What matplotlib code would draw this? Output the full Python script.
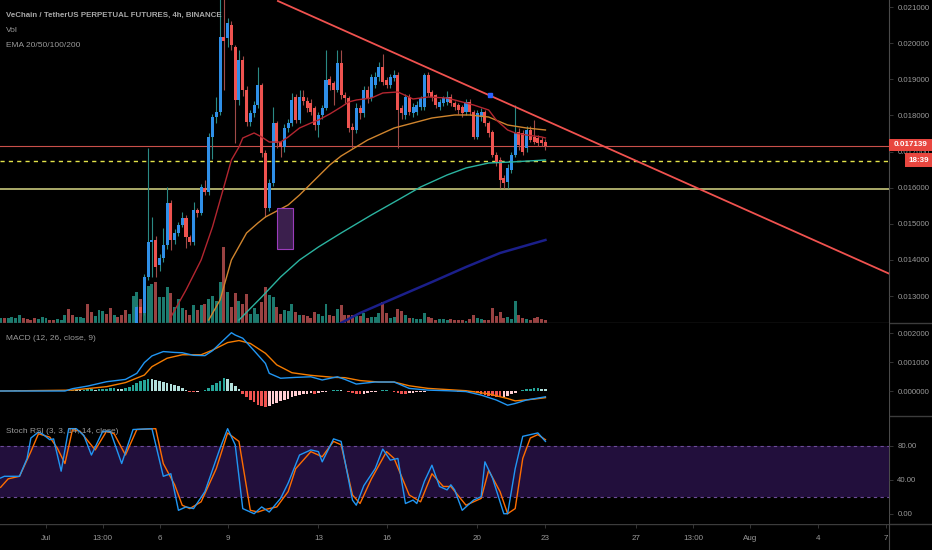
import numpy as np
import matplotlib.pyplot as plt
from matplotlib import font_manager
from matplotlib.lines import Line2D
from matplotlib.patches import Rectangle

# 4h candles, index 0 = Jun 29 01:00, last = Jul 23 01:00
# prices in millionths of USDT
opens = [11880, 11900, 11850, 11880, 11950, 12000, 12050, 12020, 11980, 11920,
         11900, 11960, 12050, 12080, 12040, 12000, 12030, 12100, 12120, 12080,
         12040, 12100, 12150, 12170, 12130, 12090, 12110, 12180, 12200, 12180,
         12150, 12190, 12140, 12100, 12080, 12150, 12180, 12700, 12530, 13530,
         14500, 14560, 13860, 14050, 14410, 15575, 14550, 14745, 14966, 15160,
         14630, 14500, 15380, 15300, 15990, 15880, 17400, 17955, 18094, 20170,
         20142, 20502, 19893, 18426, 19533, 18702, 17817, 18066, 18288, 18841,
         16959, 15437, 16129, 17789, 17264, 17125, 17651, 17800, 18509, 17872,
         18509, 18400, 18350, 18205, 17734, 18011, 18205, 19007, 18897, 18702,
         19450, 18565, 18481, 17679, 17596, 18205, 18066, 18702, 18481, 18841,
         19063, 19339, 18980, 18841, 19035, 19118, 18205, 18011, 18509, 18066,
         18094, 18232, 18232, 19118, 18648, 18565, 18232, 18343, 18371, 18509,
         18343, 18288, 18232, 18094, 18371, 18094, 17402, 17955, 18094, 17789,
         17540, 16904, 16766, 16267, 16156, 16488, 16904, 17540, 17513, 17097,
         17596, 17402, 17374, 17319, 17264]
highs = [11940, 11930, 11910, 11990, 12040, 12090, 12080, 12050, 12010, 11950,
         11990, 12090, 12120, 12110, 12070, 12060, 12140, 12170, 12150, 12110,
         12130, 12190, 12210, 12200, 12160, 12150, 12220, 12230, 12220, 12200,
         12220, 12210, 12170, 12130, 12180, 12230, 12750, 12800, 13600, 17100,
         15190, 14650, 14150, 14880, 16020, 15650, 14850, 15050, 15330, 15250,
         14700, 15600, 15450, 16100, 16200, 17500, 18050, 18500, 21300, 21300,
         20700, 20600, 19950, 19800, 19650, 18800, 18150, 18400, 19339, 18900,
         17050, 16250, 18232, 17850, 17300, 17750, 17900, 18620, 18600, 18700,
         18700, 18500, 18450, 18250, 18100, 18300, 19810, 19100, 18950, 19810,
         19810, 18650, 18550, 17800, 18350, 18300, 18800, 18800, 19150, 19200,
         19478, 19700, 19050, 19150, 19250, 19200, 18300, 18600, 18600, 18350,
         18400, 18550, 19173, 19200, 18700, 18600, 18450, 18550, 18675, 18600,
         18400, 18350, 18300, 18450, 18450, 18150, 18150, 18200, 18150, 17850,
         17600, 16990, 16850, 16350, 16650, 17000, 18288, 17650, 17600, 17700,
         17700, 17872, 17450, 17400, 17350]
lows = [11840, 11810, 11820, 11860, 11920, 11970, 11990, 11950, 11890, 11860,
        11880, 11940, 12020, 12010, 11970, 11980, 12010, 12080, 12050, 12010,
        12020, 12080, 12130, 12100, 12060, 12070, 12090, 12160, 12150, 12120,
        12130, 12110, 12070, 12040, 12060, 12120, 12150, 12450, 12480, 13450,
        13530, 13530, 13700, 13950, 14300, 14270, 14450, 14650, 14900, 14330,
        14400, 14420, 15200, 15250, 15800, 15800, 16800, 17800, 18000, 18700,
        19900, 19800, 17236, 18300, 18550, 17700, 17700, 17950, 18200, 16850,
        15187, 15350, 16050, 17100, 16850, 17000, 17550, 17700, 17800, 17800,
        18300, 18100, 18000, 17600, 17400, 17900, 18150, 18700, 18288, 18650,
        18450, 18350, 17550, 17097, 17500, 17900, 17950, 18350, 18400, 18750,
        18950, 18850, 18750, 18750, 18950, 17097, 17900, 17900, 18000, 17950,
        18000, 18150, 18150, 18550, 18400, 18200, 18150, 18250, 18300, 18250,
        18150, 18050, 17950, 18000, 18000, 17350, 17350, 17850, 17700, 17400,
        16850, 16600, 15990, 15990, 15990, 16400, 16850, 17050, 16900, 17000,
        17250, 17200, 17150, 17150, 17050]
closes = [11900, 11850, 11880, 11950, 12000, 12050, 12020, 11980, 11920, 11900,
          11960, 12050, 12080, 12040, 12000, 12030, 12100, 12120, 12080, 12040,
          12100, 12150, 12170, 12130, 12090, 12110, 12180, 12200, 12180, 12150,
          12190, 12140, 12100, 12080, 12150, 12180, 12700, 12530, 13530, 14500,
          14560, 13800, 14050, 14410, 15575, 14550, 14745, 14966, 15160, 14630,
          14500, 15380, 15300, 16018, 15880, 17400, 17955, 18094, 20170, 20050,
          20557, 19948, 18426, 19533, 18702, 17817, 18066, 18288, 18841, 16959,
          15437, 16129, 17789, 17236, 17125, 17651, 17800, 18426, 17872, 18509,
          18400, 18205, 18094, 17734, 18011, 18205, 18980, 18841, 18702, 19450,
          18565, 18481, 17651, 17596, 18205, 18066, 18702, 18481, 19063, 19063,
          19339, 18924, 18841, 19063, 19118, 18149, 18066, 18509, 18094, 18232,
          18288, 18481, 19118, 18620, 18509, 18288, 18371, 18481, 18509, 18343,
          18232, 18149, 18066, 18371, 18094, 17402, 18066, 18094, 17789, 17513,
          16904, 16710, 16212, 16129, 16544, 16904, 17513, 17180, 16987, 17596,
          17319, 17264, 17236, 17236, 17139]
volumes = [5, 4.5, 4.5, 6, 5, 8, 5, 4, 3, 5, 4, 6, 5, 3, 3, 4, 3, 8, 14, 8,
           6, 6, 5, 19, 11, 7, 13, 12, 9, 15, 8, 6, 8, 13, 9,
           27, 31, 24, 26, 37, 38, 40, 26, 26, 36, 30, 16, 24, 15, 13, 8, 18, 13,
           18, 19, 24, 27, 22, 40, 75, 31, 16, 30, 22, 19, 29, 9, 15, 9, 21, 36,
           28, 26, 16, 9, 13, 12, 19, 11, 8, 8, 7, 5, 11, 9, 7, 19, 8, 7, 14, 18,
           8, 8, 8, 7, 7, 10, 5, 6, 6, 10, 21, 10, 5, 6, 14, 12, 8, 5, 5, 4, 4,
           10, 6, 5, 3, 4, 4, 3, 4, 3, 3, 3, 2, 4, 8, 5, 4, 3, 3, 15, 7, 11, 5,
           6, 4, 22, 8, 5, 4, 3, 5, 6, 4, 3]

# EMA lines read at candle indices (prices in millionths)
ema20_i = [45, 49, 53, 56, 59, 61, 63, 64, 67, 69, 71, 74, 76, 79, 82, 84, 87, 90,
           92, 94, 98, 101, 105, 109, 113, 118, 122, 125, 129, 131, 134, 136, 139, 143, 144]
ema20_p = [12419, 13167, 13997, 14911, 16018, 16765, 17125, 17374, 17513, 17402,
           17263, 17263, 17402, 17651, 17789, 17872, 18039, 18232, 18371, 18426,
           18481, 18620, 18648, 18454, 18509, 18481, 18371, 18288, 18149, 17872,
           17596, 17513, 17457, 17402, 17374]
ema50_i = [55, 58, 61, 65, 68, 70, 72, 76, 79, 83, 87, 90, 97, 104, 109, 114, 120,
           124, 129, 134, 139, 144]
ema50_p = [12336, 12890, 13997, 14745, 15021, 15188, 15298, 15520, 15796, 16212,
           16627, 16876, 17319, 17651, 17789, 17928, 18011, 18011, 17955, 17734,
           17651, 17596]
ema100_i = [63, 69, 74, 79, 84, 90, 98, 105, 111, 118, 123, 129, 135, 144]
ema100_p = [12336, 12973, 13527, 13997, 14357, 14745, 15243, 15658, 16018, 16350,
            16544, 16682, 16710, 16765]
ema200_i = [89, 95, 106, 114, 123, 132, 144]
ema200_p = [12200, 12530, 13028, 13388, 13803, 14191, 14551]

last_price = 0.017139
dashed_level = 0.016737
support_level = 0.015950
trend_i = [73.3, 234.8]
trend_p = [0.021166, 0.013620]
marker_i, marker_p = 129.4, 0.018558
box_i = (73.0, 77.2)
box_p = (0.01430, 0.01544)

# MACD (12, 26, close, 9), values in thousandths
macd_i = [0, 17, 19, 23, 28, 33, 36, 38, 40, 43, 46, 48, 51, 54, 56, 58, 61, 62, 64, 67,
          70, 71, 74, 78, 82, 85, 89, 91, 94, 99, 104, 108, 113, 118, 123, 127, 131,
          134, 136, 139, 144]
macd_v = [0.0, 0.0, 0.08, 0.17, 0.32, 0.40, 0.61, 0.98, 1.21, 1.36, 1.33, 1.32, 1.23,
          1.22, 1.39, 1.64, 2.01, 1.93, 1.82, 1.39, 0.95, 0.61, 0.44, 0.47, 0.49, 0.38,
          0.49, 0.40, 0.24, 0.31, 0.31, 0.09, 0.03, 0.01, -0.02, -0.14, -0.31, -0.49,
          -0.43, -0.31, -0.20]
signal_i = [0, 19, 28, 33, 38, 40, 44, 48, 53, 56, 60, 63, 66, 70, 73, 77, 82, 88, 91,
            95, 100, 104, 108, 113, 123, 129, 134, 136, 141, 144]
signal_v = [0.0, 0.03, 0.15, 0.29, 0.55, 0.84, 1.13, 1.25, 1.25, 1.41, 1.67, 1.74, 1.64,
            1.30, 0.90, 0.63, 0.54, 0.47, 0.46, 0.36, 0.31, 0.31, 0.18, 0.09, 0.01,
            -0.10, -0.26, -0.34, -0.28, -0.23]
# histogram per candle, in ten-thousandths
hist = [0.1, 0.1, 0.0, 0.1, 0.2, 0.2, 0.1, 0.0, -0.1, -0.1, 0.0, 0.2, 0.2, 0.1, 0.0, 0.1,
        0.2, 0.3,
        0.4, 0.5, 0.4, 0.3, 0.5, 0.6, 0.6, 0.5, 0.7, 0.7, 0.8, 0.9, 0.9, 0.7, 0.6, 0.9,
        1.5, 2.1, 2.7, 3.3, 3.8, 4.1, 4.0, 3.7,
        3.4, 3.1, 2.8, 2.4, 2.0, 1.6, 1.1, 0.5,
        -0.2, -0.4, -0.3, -0.1,
        0.4, 1.1, 1.9, 2.8, 3.6, 4.4, 4.0, 2.9, 1.7, 0.6,
        -1.0, -2.0, -3.0, -3.9, -4.7, -5.3, -5.6,
        -5.1, -4.5, -4.0, -3.5, -3.0, -2.6, -2.2, -1.8, -1.4, -1.1, -0.9, -0.7, -0.9,
        -0.8, -0.5, -0.3,
        0.1, 0.2, 0.3, 0.2, 0.1,
        -0.4, -0.7, -1.0, -1.1, -0.9, -0.7, -0.5, -0.2,
        0.1, 0.2, 0.2, 0.1,
        -0.2, -0.6, -0.9, -1.0, -0.8, -0.6, -0.5, -0.4, -0.2,
        -0.1, -0.1, 0.0, 0.1, 0.1, 0.0, -0.1, -0.1, -0.2, -0.2, -0.1, -0.2,
        -0.5, -0.8, -1.1, -1.4, -1.6, -1.8, -2.0, -2.2, -2.2, -1.7,
        -1.1, -0.6, -0.1,
        0.3, 0.6, 0.8, 0.9, 0.9, 0.8, 0.7]

# Stoch RSI (3, 3, 14, 14, close)
k_i = [0, 1, 3, 5, 7, 8, 10, 11, 13, 14, 16, 18, 20, 22, 24, 27, 29, 32, 35, 40, 43, 45,
       47, 49, 51, 54, 58, 60, 62, 64, 67, 69, 71, 74, 76, 79, 82, 84, 85, 88, 90, 93,
       94, 96, 99, 101, 103, 105, 107, 109, 110, 112, 114, 116, 118, 119, 120, 122,
       125, 127, 128, 130, 133, 134, 136, 138, 140, 142, 144]
k_v = [42, 44, 44, 44, 65, 89, 96, 94, 87, 88, 50, 100, 100, 92, 69, 97, 97, 59, 99, 100,
       44, 47, 4, 8, 6, 26, 77, 100, 81, 6, 0, 8, 2, 18, 36, 69, 75, 73, 61, 88, 85, 16,
       10, 33, 53, 76, 63, 65, 12, 16, 12, 38, 57, 32, 28, 34, 28, 4, 16, 20, 61, 42, 0,
       0, 53, 91, 93, 95, 85]
d_i = [0, 2, 5, 8, 10, 13, 15, 17, 19, 21, 25, 28, 30, 33, 36, 41, 43, 46, 48, 50, 53,
       57, 60, 63, 66, 68, 70, 73, 76, 78, 82, 85, 88, 90, 93, 95, 98, 102, 104, 108,
       111, 114, 117, 119, 123, 127, 129, 132, 134, 136, 138, 140, 142, 144]
d_v = [31, 41, 44, 73, 94, 90, 77, 59, 99, 97, 75, 97, 94, 69, 99, 100, 59, 34, 10, 6,
       14, 53, 95, 85, 4, 2, 5, 8, 26, 53, 73, 67, 85, 81, 22, 12, 41, 73, 65, 22, 14,
       47, 32, 32, 10, 18, 51, 26, 0, 6, 65, 89, 93, 87]

tick_idx = [12, 27, 42, 60, 84, 102, 126, 144, 168, 183, 198, 216, 234]
tick_lab = ["Jul", "13:00", "6", "9", "13", "16", "20", "23", "27", "13:00", "Aug", "4", "7"]

# ---------------------------------------------------------------------------
names = {f.name for f in font_manager.fontManager.ttflist}
narrow = "Liberation Sans Narrow" in names
ui_font = "Liberation Sans Narrow" if narrow else "Liberation Sans"
plt.rcParams["font.family"] = ["Liberation Sans", "DejaVu Sans"]

W, H = 932, 550
AX_R = 889
TXT = "#9a9a9a"
SEP = "#3c3c3c"
UP, DOWN = "#2f8fe8", "#ef5350"

fig = plt.figure(figsize=(W / 100, H / 100), dpi=100, facecolor="black")


def pane(top, bottom, z=2):
    a = fig.add_axes([0, 1 - bottom / H, AX_R / W, (bottom - top) / H], zorder=z)
    a.set_xlim(-0.16, 234.8)
    for s in a.spines.values():
        s.set_visible(False)
    a.set_xticks([])
    a.yaxis.tick_right()
    a.tick_params(axis="y", colors=SEP, labelcolor=TXT, labelsize=5.6,
                  length=3, width=0.6, pad=3)
    return a


o = np.array(opens) / 1e6
h = np.array(highs) / 1e6
l = np.array(lows) / 1e6
c = np.array(closes) / 1e6
vol = np.array(volumes, dtype=float)
idx = np.arange(len(c))
up = c >= o

# volume underneath
vax = pane(0, 323, z=1)
vax.set_facecolor("black")
vax.set_yticks([])
vax.set_ylim(0, vol.max() * 4.25)
vax.bar(idx, vol, width=0.78, color=np.where(up, "#1c7a6e", "#994242"), linewidth=0)

# price pane
ax = pane(0, 323, z=2)
ax.set_facecolor("none")
ax.set_ylim(0.012253, 0.021194)
ax.set_yticks(np.arange(13, 22) / 1000)
ax.set_yticklabels([f"{v:.6f}" for v in np.arange(13, 22) / 1000])

ax.axhline(last_price, color="#c9504a", lw=0.8, zorder=1)
ax.axhline(dashed_level, color="#e3e34a", lw=1.0, ls=(0, (3, 3)), zorder=1)
ax.axhline(support_level, color="#c8c87c", lw=1.2, zorder=1)

ax.vlines(idx, l, h, colors=np.where(up, "#2a8a84", "#a04a48"), lw=0.8, zorder=2)
ax.bar(idx, np.maximum(np.abs(c - o), 0.00002), bottom=np.minimum(o, c), width=0.8,
       color=np.where(up, UP, DOWN), linewidth=0, zorder=3)

ax.plot(ema200_i, np.array(ema200_p) / 1e6, color="#1b1f8a", lw=1.8, zorder=4)
ax.plot(ema100_i, np.array(ema100_p) / 1e6, color="#2bb3a0", lw=1.0, zorder=4)
ax.plot(ema50_i, np.array(ema50_p) / 1e6, color="#d0852e", lw=1.0, zorder=4)
ax.plot(ema20_i, np.array(ema20_p) / 1e6, color="#b32630", lw=1.0, zorder=4)

ax.plot(trend_i, trend_p, color="#f0524f", lw=1.3, zorder=5)
ax.plot(marker_i, marker_p, marker="s", ms=3, color="#2962ff", zorder=6)
ax.add_patch(Rectangle((box_i[0], box_p[0]), box_i[1] - box_i[0], box_p[1] - box_p[0],
                       facecolor="#3b1f4d", edgecolor="#9b3cbb", lw=0.8, zorder=5))

# MACD pane
mx = pane(323, 416)
mx.set_facecolor("black")
mx.set_ylim(-0.862, 2.345)
mx.set_yticks([0, 1, 2])
mx.set_yticklabels(["0.000000", "0.001000", "0.002000"])
hv = np.array(hist) / 10
prev = np.r_[0, hv[:-1]]
hcol = np.where(hv >= 0, np.where(hv >= prev, "#26a69a", "#b2dfdb"),
                np.where(hv < prev, "#ef5350", "#ffcdd2"))
mx.bar(idx, hv, width=0.7, color=hcol, linewidth=0)
mx.plot(signal_i, signal_v, color="#f57c00", lw=1.0)
mx.plot(macd_i, macd_v, color="#2196f3", lw=1.0)

# Stoch RSI pane
sx = pane(416, 524)
sx.set_facecolor("black")
sx.set_ylim(-12.1, 114.9)
sx.set_yticks([0, 40, 80])
sx.set_yticklabels(["0.00", "40.00", "80.00"])
sx.axhspan(20, 80, color="#220f3c", lw=0)
for lev in (20, 80):
    sx.axhline(lev, color="#6d4c9a", lw=0.8, ls=(0, (3, 3)))
sx.plot(d_i, d_v, color="#ff6d00", lw=1.0)
sx.plot(k_i, k_v, color="#2196f3", lw=1.0)
sx.set_xticks(tick_idx)
sx.set_xticklabels(tick_lab)
sx.tick_params(axis="x", colors=SEP, labelcolor=TXT, labelsize=5.8, length=3,
               width=0.6, pad=5)

# separators and right axis line
for yy in (323, 416, 524):
    fig.add_artist(Line2D([0, 1], [1 - yy / H] * 2, color=SEP, lw=1.0))
fig.add_artist(Line2D([AX_R / W] * 2, [0, 1], color="#4a4a4a", lw=0.8))


def px_box(x0, y0, x1, y1, color):
    fig.add_artist(Rectangle((x0 / W, 1 - y1 / H), (x1 - x0) / W, (y1 - y0) / H,
                             transform=fig.transFigure, facecolor=color, lw=0, zorder=10))


px_box(AX_R, 139, W, 151, "#e8463f")
fig.text((AX_R + W) / 2 / W, 1 - 145 / H, f"{last_price:.6f}", color="white",
         fontsize=5.8, weight="bold", ha="center", va="center", zorder=11)
px_box(905, 153, W, 167, "#e8463f")
fig.text(918.5 / W, 1 - 160 / H, "18:39", color="white", fontsize=5.8, weight="bold",
         ha="center", va="center", zorder=11)

# legends
ts = 7.1 if narrow else 6.0
fam = [ui_font, "DejaVu Sans"]
fig.text(6 / W, 1 - 15.5 / H, "VeChain / TetherUS PERPETUAL FUTURES, 4h, BINANCE",
         color="#a8a8a8", fontsize=ts - 0.3, weight="bold", family=fam, va="center")
fig.text(6 / W, 1 - 30.5 / H, "Vol", color=TXT, fontsize=ts, family=fam, va="center")
fig.text(6 / W, 1 - 45.5 / H, "EMA 20/50/100/200", color=TXT, fontsize=ts,
         family=fam, va="center")
fig.text(6 / W, 1 - 339 / H, "MACD (12, 26, close, 9)", color=TXT, fontsize=ts,
         family=fam, va="center", zorder=12)
fig.text(6 / W, 1 - 431.5 / H, "Stoch RSI (3, 3, 14, 14, close)", color=TXT,
         fontsize=ts, family=fam, va="center", zorder=12)

fig.savefig("out.png", dpi=100, facecolor="black")
